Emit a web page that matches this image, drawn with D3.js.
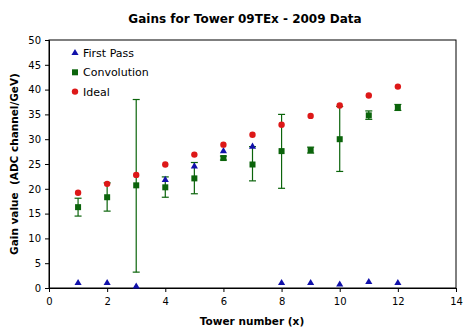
<!DOCTYPE html>
<html>
<head>
<meta charset="utf-8">
<script src="https://cdn.jsdelivr.net/npm/d3@7"></script>
<style>
  body { margin: 0; background: #fff; }
  text { font-family: "DejaVu Sans", Verdana, sans-serif; }
</style>
</head>
<body>
<div id="chart-container"></div>
<script>
// gain per tower, three methods
const towers = [1, 2, 3, 4, 5, 6, 7, 8, 9, 10, 11, 12];
const firstPass = [1.0, 1.0, 0.3, 21.8, 24.5, 27.6, 28.5, 1.0, 1.0, 0.7, 1.2, 1.0];
const convolution = [16.3, 18.3, 20.7, 20.3, 22.1, 26.2, 24.9, 27.6, 27.8, 30.0, 34.8, 36.4];
const convLow = [14.5, 15.5, 3.2, 18.3, 19.0, 25.8, 21.6, 20.1, 27.2, 23.5, 34.0, 35.8];
const convHigh = [18.1, 21.2, 38.0, 22.4, 25.3, 26.6, 28.5, 35.0, 28.4, 36.6, 35.7, 37.0];
const ideal = [19.2, 21.0, 22.8, 24.9, 26.9, 28.9, 30.9, 32.9, 34.7, 36.8, 38.8, 40.6];
const xTicks = [0, 2, 4, 6, 8, 10, 12, 14];
const yTicks = [0, 5, 10, 15, 20, 25, 30, 35, 40, 45, 50];

const svgWidth = 470;
const svgHeight = 331;
const margin = { top: 40, right: 14, bottom: 43, left: 49 };
const width = svgWidth - margin.left - margin.right;
const height = svgHeight - margin.top - margin.bottom;

const blue = "#1111aa";
const green = "#0b640b";
const red = "#dd1818";

const svg = d3.select("#chart-container")
    .append("svg")
    .attr("width", svgWidth)
    .attr("height", svgHeight)
    .append("g")
    .attr("transform", `translate(${margin.left},${margin.top})`);

const x = d3.scaleLinear().domain([0, 14]).range([0, width]);
const y = d3.scaleLinear().domain([0, 50]).range([height, 0]);

// box around the plot area
svg.append("rect")
    .attr("width", width)
    .attr("height", height)
    .attr("fill", "none")
    .attr("stroke", "#000")
    .attr("stroke-width", 1);

const xAxis = svg.append("g")
    .attr("transform", `translate(0,${height})`)
    .call(d3.axisBottom(x).tickValues(xTicks).tickSize(4).tickPadding(6));
const yAxis = svg.append("g")
    .call(d3.axisLeft(y).tickValues(yTicks).tickSize(4).tickPadding(4));
[xAxis, yAxis].forEach(a => {
    a.selectAll("text").attr("font-size", 10).attr("fill", "#000")
        .attr("font-family", "DejaVu Sans, Verdana, sans-serif");
    a.select(".domain").attr("stroke", "#000");
});

const conv = towers.map((t, i) => ({ t, v: convolution[i], lo: convLow[i], hi: convHigh[i] }));

// error bars
const bars = svg.append("g").attr("stroke", green).attr("stroke-width", 1.2);
bars.selectAll(".stem").data(conv).join("line")
    .attr("x1", d => x(d.t)).attr("x2", d => x(d.t))
    .attr("y1", d => y(d.lo)).attr("y2", d => y(d.hi));
bars.selectAll(".cap-hi").data(conv).join("line")
    .attr("x1", d => x(d.t) - 3.5).attr("x2", d => x(d.t) + 3.5)
    .attr("y1", d => y(d.hi)).attr("y2", d => y(d.hi));
bars.selectAll(".cap-lo").data(conv).join("line")
    .attr("x1", d => x(d.t) - 3.5).attr("x2", d => x(d.t) + 3.5)
    .attr("y1", d => y(d.lo)).attr("y2", d => y(d.lo));

const tri = d3.symbol().type(d3.symbolTriangle).size(22);

svg.append("g").selectAll("path").data(towers).join("path")
    .attr("d", tri)
    .attr("transform", (t, i) => `translate(${x(t)},${y(firstPass[i])})`)
    .attr("fill", blue);

svg.append("g").selectAll("rect").data(conv).join("rect")
    .attr("x", d => x(d.t) - 3).attr("y", d => y(d.v) - 3)
    .attr("width", 6).attr("height", 6)
    .attr("fill", green);

svg.append("g").selectAll("circle").data(towers).join("circle")
    .attr("cx", t => x(t))
    .attr("cy", (t, i) => y(ideal[i]))
    .attr("r", 3.2)
    .attr("fill", red);

// legend
const legend = svg.append("g").attr("transform", "translate(26,13)");
const items = [
    { name: "First Pass", kind: "tri", color: blue },
    { name: "Convolution", kind: "sq", color: green },
    { name: "Ideal", kind: "circ", color: red }
];
items.forEach((it, i) => {
    const g = legend.append("g").attr("transform", `translate(0,${i * 19.3})`);
    if (it.kind === "tri") g.append("path").attr("d", tri).attr("fill", it.color);
    if (it.kind === "sq") g.append("rect").attr("x", -3).attr("y", -3).attr("width", 6).attr("height", 6).attr("fill", it.color);
    if (it.kind === "circ") g.append("circle").attr("r", 3.2).attr("fill", it.color);
    g.append("text").text(it.name)
        .attr("x", 8).attr("y", 4)
        .attr("font-size", 11);
});

svg.append("text")
    .text("Gains for Tower 09TEx - 2009 Data")
    .attr("x", 196).attr("y", -17)
    .attr("text-anchor", "middle")
    .attr("font-size", 12).attr("font-weight", "bold");

svg.append("text")
    .text("Tower number (x)")
    .attr("x", 203).attr("y", height + 37)
    .attr("text-anchor", "middle")
    .attr("font-size", 10.5).attr("font-weight", "bold");

svg.append("text")
    .text("Gain value  (ADC channel/GeV)")
    .attr("transform", `translate(-31,${height / 2}) rotate(-90)`)
    .attr("text-anchor", "middle")
    .attr("font-size", 10.5).attr("font-weight", "bold")
    .attr("xml:space", "preserve")
    .style("white-space", "pre");
</script>
</body>
</html>
